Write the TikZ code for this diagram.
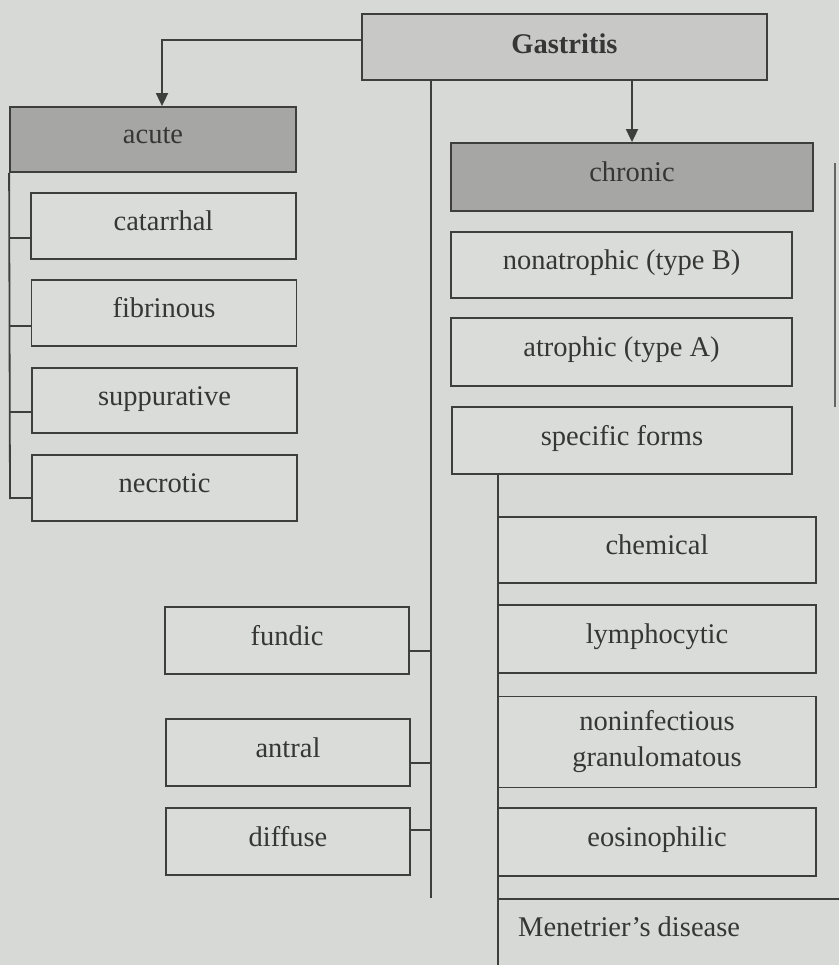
\documentclass[tikz,border=0pt]{standalone}
\usepackage{fontspec}
\setmainfont{Liberation Serif}
\usetikzlibrary{arrows.meta}
\definecolor{bgc}{HTML}{D6D9D6}
\definecolor{boxc}{HTML}{DADCD9}
\definecolor{topc}{HTML}{C8C9C6}
\definecolor{darkc}{HTML}{A6A7A5}
\definecolor{inkc}{HTML}{363636}
\definecolor{linec}{HTML}{3E3E3E}
\tikzset{
  boxbase/.style={draw=linec, line width=1.8pt, fill=boxc, rectangle, inner sep=0pt,
    text=inkc, font=\fontsize{28.5}{36}\selectfont, align=center},
  box/.style={boxbase, text height=20pt, text depth=11pt},
  darkbox/.style={box, fill=darkc},
  conn/.style={draw=linec, line width=1.8pt},
  arr/.style={conn, -{Triangle[length=13pt,width=12pt]}},
}
\begin{document}
\begin{tikzpicture}[x=1pt,y=-1pt]
\fill[bgc] (0,0) rectangle (839,965);
\useasboundingbox (0,0) rectangle (839,965);

% top
\node[boxbase, fill=topc, text height=20pt, text depth=7pt, minimum width=405pt, minimum height=66pt, font=\fontsize{28.5}{36}\selectfont\bfseries] (gas) at (564.5,47) {Gastritis};

% acute branch
\node[darkbox, minimum width=286pt, minimum height=65pt] (acute) at (153,139.5) {acute};
\node[box, minimum width=265pt, minimum height=66pt] (cat) at (163.5,226) {catarrhal};
\node[box, minimum width=265pt, minimum height=66pt] (fib) at (164,313) {fibrinous};
\node[box, minimum width=265pt, minimum height=65pt] (sup) at (164.5,400.5) {suppurative};
\node[box, minimum width=265pt, minimum height=66pt] (nec) at (164.5,488) {necrotic};

% chronic branch
\node[darkbox, minimum width=362pt, minimum height=68pt] (chr) at (632,177) {chronic};
\node[box, minimum width=341pt, minimum height=66pt] (nonat) at (621.5,265) {nonatrophic (type B)};
\node[box, minimum width=341pt, minimum height=68pt] (atr) at (621.5,352) {atrophic (type A)};
\node[box, minimum width=340pt, minimum height=67pt] (spec) at (622,440.5) {specific forms};
\node[box, minimum width=318pt, minimum height=66pt] (chem) at (657,550) {chemical};
\node[box, minimum width=318pt, minimum height=68pt] (lym) at (657,639) {lymphocytic};
\node[boxbase, minimum width=318pt, minimum height=91pt] (gran) at (657,742) {noninfectious\\granulomatous};
\node[box, minimum width=318pt, minimum height=68pt] (eos) at (657,842) {eosinophilic};
\node[anchor=west, text=inkc, font=\fontsize{28.5}{36}\selectfont, inner sep=0pt] (men) at (518,927) {Menetrier's disease};

% localisation
\node[box, minimum width=244pt, minimum height=67pt] (fun) at (287,640.5) {fundic};
\node[box, minimum width=244pt, minimum height=67pt] (ant) at (288,752.5) {antral};
\node[box, minimum width=244pt, minimum height=67pt] (dif) at (288,841.5) {diffuse};

% arrows from Gastritis
\draw[arr] ([yshift=7pt]gas.west) -| ([xshift=9pt]acute.north);
\draw[arr] (chr.north |- gas.south) -- (chr.north);

% acute trunk
\coordinate (atrunk) at (10,499);
\draw[conn] (acute.south west) -- (atrunk);
\coordinate (b1) at ([yshift=-12pt]cat.west);
\coordinate (b2) at ([yshift=-13pt]fib.west);
\coordinate (b3) at ([yshift=-11.5pt]sup.west);
\coordinate (b4) at ([yshift=-10pt]nec.west);
\draw[conn] (b1) -- (b1 -| atrunk);
\draw[conn] (b2) -- (b2 -| atrunk);
\draw[conn] (b3) -- (b3 -| atrunk);
\draw[conn] (b4) -- (b4 -| atrunk);

% Gastritis trunk
\coordinate (gend) at (431,898);
\draw[conn] (gas.south -| gend) -- (gend);
\coordinate (f1) at ([yshift=-10.5pt]fun.east);
\coordinate (f2) at ([yshift=-10.5pt]ant.east);
\coordinate (f3) at ([yshift=11.5pt]dif.east);
\draw[conn] (f1) -- (f1 -| gend);
\draw[conn] (f2) -- (f2 -| gend);
\draw[conn] (f3) -- (f3 -| gend);

% specific forms trunk
\coordinate (send) at (498,965);
\draw[conn] (spec.south -| send) -- (send);
\coordinate (mstart) at (498,899);
\coordinate (mend) at (839,899);
\draw[conn] (mstart) -- (mend);

% stray line at right edge
\coordinate (r1) at (835,163);
\coordinate (r2) at (835,407);
\draw[draw=linec!80, line width=1.6pt] (r1) -- (r2);
\end{tikzpicture}
\end{document}
